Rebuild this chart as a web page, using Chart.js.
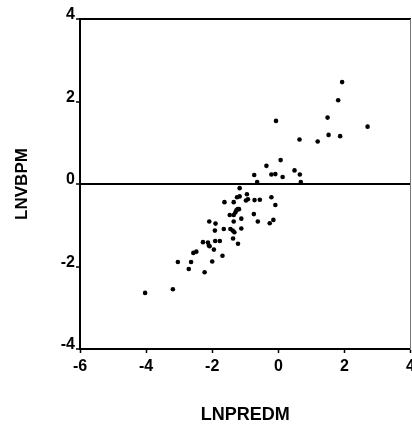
<!DOCTYPE html>
<html>
<head>
<meta charset="utf-8">
<script src="https://cdn.jsdelivr.net/npm/chart.js@4.4.1/dist/chart.umd.min.js"></script>
<style>
  html, body { margin: 0; padding: 0; background: #fff; overflow: hidden; width: 412px; height: 426px; }
  canvas { display: block; }
</style>
</head>
<body>
<canvas id="c" width="419" height="426"></canvas>
<script>
const xValues = [1.93, 1.81, -0.07, 1.49, 2.70, 1.52, 1.87, 0.64, 1.19, 0.07,
  -0.36, 0.49, -0.73, -0.21, -0.09, 0.13, 0.65, -0.64, 0.68, -1.17,
  -0.95, -1.17, -1.25, -1.63, -1.35, -0.98, -0.92, -0.72, -0.56, -0.21,
  -0.09, -1.23, -1.27, -1.30, -1.19, -1.35, -1.47, -0.74, -1.12, -1.35,
  -0.62, -0.15, -0.26, -2.09, -1.90, -1.92, -1.65, -1.45, -1.38, -1.33,
  -1.12, -1.37, -1.22, -2.28, -2.13, -2.10, -2.08, -1.91, -1.77, -1.95,
  -2.48, -2.57, -1.69, -2.64, -3.04, -2.00, -2.71, -2.23, -3.19, -4.03];
const yValues = [2.47, 2.03, 1.53, 1.61, 1.39, 1.19, 1.16, 1.08, 1.03, 0.58,
  0.44, 0.33, 0.22, 0.23, 0.24, 0.17, 0.23, 0.05, 0.05, -0.10,
  -0.25, -0.30, -0.32, -0.44, -0.44, -0.40, -0.37, -0.39, -0.38, -0.32,
  -0.51, -0.61, -0.64, -0.69, -0.61, -0.75, -0.75, -0.73, -0.84, -0.91,
  -0.91, -0.87, -0.95, -0.91, -0.96, -1.13, -1.09, -1.09, -1.13, -1.17,
  -1.08, -1.32, -1.45, -1.41, -1.42, -1.49, -1.51, -1.38, -1.38, -1.59,
  -1.64, -1.67, -1.74, -1.89, -1.89, -1.88, -2.06, -2.14, -2.55, -2.64];
const xTicks = [-6, -4, -2, 0, 2, 4];
const yTicks = [-4, -2, 0, 2, 4];
const xTitle = 'LNPREDM';
const yTitle = 'LNVBPM';

const points = xValues.map((x, i) => ({ x: x, y: yValues[i] }));
const tickFont = { family: '"Liberation Sans", Arial, sans-serif', size: 16, weight: 'bold' };
const xTitleFont = { family: '"Liberation Sans", Arial, sans-serif', size: 18, weight: 'bold' };
const yTitleFont = { family: '"Liberation Sans", Arial, sans-serif', size: 17, weight: 'bold' };

new Chart(document.getElementById('c'), {
  type: 'scatter',
  data: {
    datasets: [{
      data: points,
      backgroundColor: '#000',
      borderColor: '#000',
      pointRadius: 2.3,
      pointHoverRadius: 2.3,
      borderWidth: 0
    }]
  },
  options: {
    responsive: false,
    animation: false,
    events: [],
    layout: { padding: { top: 19, right: 0, bottom: 0, left: 0 } },
    plugins: { legend: { display: false }, tooltip: { enabled: false } },
    scales: {
      x: {
        type: 'linear',
        position: 'bottom',
        min: xTicks[0],
        max: xTicks[xTicks.length - 1],
        afterBuildTicks: s => { s.ticks = xTicks.map(v => ({ value: v })); },
        afterFit: s => { s.height = 77; },
        grid: { display: true, drawOnChartArea: false, drawTicks: true, tickLength: 4, tickColor: '#000', tickWidth: 1.5 },
        border: { display: true, color: '#000', width: 2 },
        ticks: { color: '#000', font: tickFont, padding: 4, maxRotation: 0, autoSkip: false },
        title: { display: true, text: xTitle, color: '#000', font: xTitleFont, padding: { top: 0, bottom: 0 } }
      },
      y: {
        type: 'linear',
        position: 'left',
        min: yTicks[0],
        max: yTicks[yTicks.length - 1],
        afterBuildTicks: s => { s.ticks = yTicks.map(v => ({ value: v })); },
        afterFit: s => { s.width = 80; },
        grid: {
          display: true,
          drawTicks: true,
          tickLength: 4,
          tickColor: '#000',
          tickWidth: 1.5,
          color: ctx => (ctx.tick && ctx.tick.value === 0) ? '#000' : 'rgba(0,0,0,0)',
          lineWidth: ctx => (ctx.tick && ctx.tick.value === 0) ? 2 : 0
        },
        border: { display: true, color: '#000', width: 2 },
        ticks: { color: '#000', font: tickFont, padding: 1, labelOffset: -4, autoSkip: false },
        title: { display: true, text: yTitle, color: '#000', font: yTitleFont, padding: { top: 12, bottom: 0 } }
      },
      x2: {
        type: 'linear',
        position: 'top',
        display: true,
        afterFit: s => { s.height = 0; },
        grid: { display: false },
        border: { display: true, color: '#000', width: 2 },
        ticks: { display: false }
      },
      y2: {
        type: 'linear',
        position: 'right',
        display: true,
        afterFit: s => { s.width = 0; },
        grid: { display: false },
        border: { display: true, color: '#777', width: 1, dash: [3, 2] },
        ticks: { display: false }
      }
    }
  }
});
</script>
</body>
</html>
